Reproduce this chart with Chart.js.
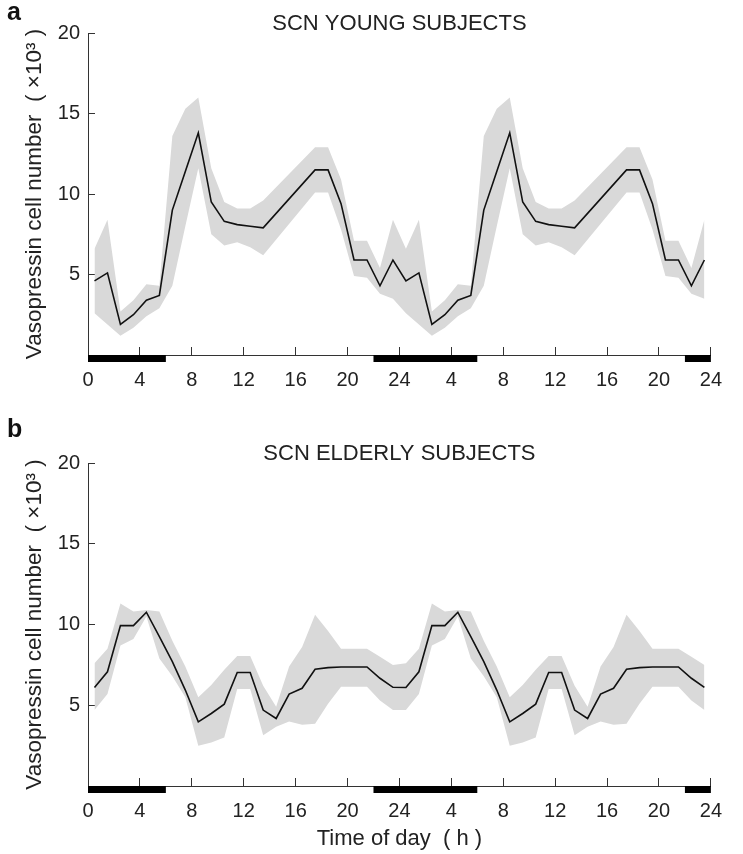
<!DOCTYPE html>
<html>
<head>
<meta charset="utf-8">
<script src="https://cdn.jsdelivr.net/npm/chart.js@4.4.0/dist/chart.umd.min.js"></script>
<style>
  body { margin: 0; background: #fff; }
  canvas { display: block; }
</style>
</head>
<body>
<canvas id="chartA" width="743" height="410"></canvas>
<canvas id="chartB" width="743" height="444"></canvas>
<script>
// hour bins (centre of each hour), plotted twice over 48 h
var hoursYoung = [0.5, 1.5, 2.5, 3.5, 4.5, 5.5, 6.5, 7.5, 8.5, 9.5, 10.5, 11.5, 12.5, 13.5, 17.5, 18.5, 19.5, 20.5, 21.5, 22.5, 23.5];
var meanYoung  = [4.6, 5.1, 1.9, 2.5, 3.4, 3.7, 9.0, 11.4, 13.8, 9.5, 8.3, 8.1, 8.0, 7.9, 11.5, 11.5, 9.4, 5.9, 5.9, 4.3, 5.9];
var upperYoung = [6.6, 8.4, 2.7, 3.4, 4.4, 4.3, 13.6, 15.3, 16.0, 11.6, 9.5, 9.1, 9.1, 9.6, 12.9, 12.9, 10.9, 7.1, 7.1, 5.4, 8.4];
var lowerYoung = [2.6, 1.9, 1.2, 1.7, 2.4, 2.9, 4.3, 8.0, 11.6, 7.5, 6.8, 7.0, 6.7, 6.2, 10.1, 10.1, 7.8, 4.9, 4.8, 3.8, 3.5];

var hoursOld = [0.5, 1.5, 2.5, 3.5, 4.5, 5.5, 6.5, 7.5, 8.5, 9.5, 10.5, 11.5, 12.5, 13.5, 14.5, 15.5, 16.5, 17.5, 18.5, 19.5, 20.5, 21.5, 22.5, 23.5];
var meanOld  = [6.1, 7.07, 9.93, 9.93, 10.76, 9.25, 7.7, 5.94, 3.97, 4.49, 5.07, 7.03, 7.03, 4.7, 4.18, 5.69, 6.05, 7.23, 7.33, 7.37, 7.37, 7.37, 6.67, 6.11];
var upperOld = [7.6, 8.5, 11.3, 10.8, 10.9, 10.8, 9.0, 7.4, 5.5, 6.25, 7.2, 8.05, 8.05, 6.2, 4.9, 7.4, 8.6, 10.6, 9.6, 8.5, 8.5, 8.5, 8.0, 7.5];
var lowerOld = [4.7, 5.7, 8.7, 9.1, 10.5, 7.9, 6.8, 5.5, 2.5, 2.7, 3.0, 6.0, 6.0, 3.15, 3.67, 4.0, 3.8, 3.85, 5.1, 6.15, 6.15, 6.15, 5.3, 4.7];

// dark periods (black bars on the time axis)
var darkStart = [0, 22, 46];
var darkEnd   = [6, 30, 48];

var yTicks = [5, 10, 15, 20];

Chart.defaults.font.family = '"Liberation Sans", Arial, Helvetica, sans-serif';
Chart.defaults.color = '#222';

function doubled(hours, vals) {
  var pts = [];
  for (var d = 0; d < 2; d++) {
    for (var i = 0; i < hours.length; i++) {
      pts.push({x: hours[i] + 24 * d, y: vals[i]});
    }
  }
  return pts;
}

var panelDecor = {
  id: 'panelDecor',
  afterDraw: function(chart, args, opts) {
    var ctx = chart.ctx, xs = chart.scales.x, area = chart.chartArea;
    ctx.save();
    ctx.fillStyle = '#000';
    for (var i = 0; i < darkStart.length; i++) {
      var x1 = xs.getPixelForValue(darkStart[i]);
      var x2 = xs.getPixelForValue(darkEnd[i]);
      ctx.fillRect(x1, area.bottom, x2 - x1, 7);
    }
    ctx.fillStyle = '#111';
    ctx.font = 'bold 25px "Liberation Sans", Arial, sans-serif';
    ctx.textBaseline = 'alphabetic';
    ctx.fillText(opts.letter, 7, opts.letterY);
    ctx.fillStyle = '#222';
    ctx.font = '22px "Liberation Sans", Arial, sans-serif';
    ctx.textAlign = 'center';
    ctx.textBaseline = 'middle';
    ctx.fillText(opts.title, (area.left + area.right) / 2, opts.titleY);
    ctx.restore();
  }
};

function makeChart(id, hours, mean, upper, lower, opts) {
  return new Chart(document.getElementById(id), {
    type: 'line',
    data: {
      datasets: [
        {
          label: 'mean',
          data: doubled(hours, mean),
          borderColor: '#111',
          borderWidth: 1.6,
          pointRadius: 0,
          tension: 0,
          fill: false
        },
        {
          label: 'upper',
          data: doubled(hours, upper),
          borderWidth: 0,
          borderColor: 'rgba(0,0,0,0)',
          backgroundColor: 'rgb(217,217,217)',
          pointRadius: 0,
          tension: 0,
          fill: '+1'
        },
        {
          label: 'lower',
          data: doubled(hours, lower),
          borderWidth: 0,
          borderColor: 'rgba(0,0,0,0)',
          pointRadius: 0,
          tension: 0,
          fill: false
        }
      ]
    },
    options: {
      responsive: false,
      animation: false,
      layout: { padding: { top: opts.padTop, right: 13, left: 0, bottom: 0 } },
      plugins: {
        legend: { display: false },
        tooltip: { enabled: false },
        panelDecor: { letter: opts.letter, letterY: opts.letterY, title: opts.title, titleY: opts.titleY }
      },
      scales: {
        x: {
          type: 'linear',
          min: 0,
          max: 48,
          afterFit: function(scale) { scale.height = opts.xHeight; },
          ticks: {
            stepSize: 4,
            padding: 21,
            font: { size: 20 },
            color: '#222',
            callback: function(v) { return (v > 0 && v % 24 === 0) ? '24' : String(v % 24); }
          },
          grid: { drawOnChartArea: false, tickLength: -8, color: '#333', lineWidth: 1 },
          border: { display: true, color: '#333', width: 1 },
          title: {
            display: opts.xTitle,
            text: 'Time of day  ( h )',
            font: { size: 22 },
            color: '#222',
            padding: { top: 0, bottom: 2 }
          }
        },
        y: {
          min: 0,
          max: 20,
          afterFit: function(scale) { scale.width = 88; },
          afterBuildTicks: function(scale) {
            scale.ticks = [{value: 0}].concat(yTicks.map(function(v) { return {value: v}; }));
          },
          ticks: {
            padding: 15,
            font: { size: 20 },
            color: '#222',
            callback: function(v) { return v === 0 ? '' : String(v); }
          },
          grid: { drawOnChartArea: false, tickLength: -7, color: '#333', lineWidth: 1 },
          border: { display: true, color: '#333', width: 1 },
          title: {
            display: true,
            text: 'Vasopressin cell number  ( ×10³ )',
            font: { size: 22.5 },
            color: '#222',
            padding: { top: 21, bottom: 0 }
          }
        }
      }
    },
    plugins: [panelDecor]
  });
}

makeChart('chartA', hoursYoung, meanYoung, upperYoung, lowerYoung, {
  padTop: 33, xHeight: 55, letter: 'a', letterY: 20, title: 'SCN YOUNG SUBJECTS', titleY: 24, xTitle: false
});
makeChart('chartB', hoursOld, meanOld, upperOld, lowerOld, {
  padTop: 53, xHeight: 68, letter: 'b', letterY: 27, title: 'SCN ELDERLY SUBJECTS', titleY: 44, xTitle: true
});
</script>
</body>
</html>
